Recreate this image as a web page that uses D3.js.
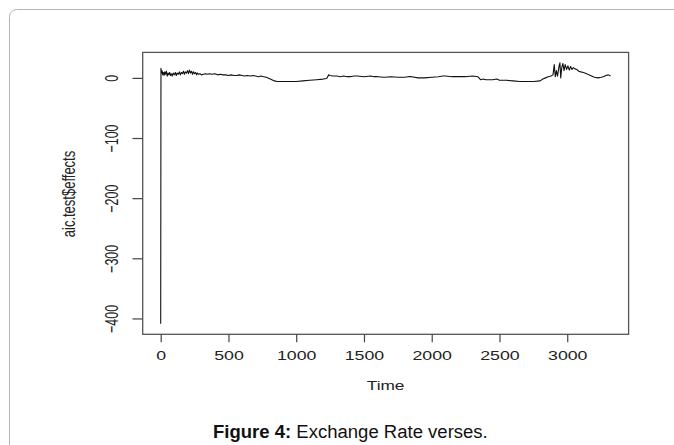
<!DOCTYPE html>
<html>
<head>
<meta charset="utf-8">
<script src="https://cdn.jsdelivr.net/npm/d3@7"></script>
<style>
  html, body { margin: 0; padding: 0; background: #fff; }
  svg { display: block; }
  text { font-family: "Liberation Sans", Arial, sans-serif; }
</style>
</head>
<body>
<svg id="chart" width="674" height="445"></svg>
<script>
// ---- data ----
const times = [
  0, 2, 5, 10, 15, 20, 25, 30, 36, 42, 48, 54, 60, 66, 72, 78, 85, 92, 100, 108,
  115, 122, 130, 138, 145, 152, 160, 168, 175, 182, 190, 198, 205, 212, 220, 228, 235, 242, 250, 258,
  265, 272, 280, 290, 300, 315, 330, 345, 360, 380, 400, 420, 440, 460, 480, 500, 520, 540, 560, 580,
  600, 620, 640, 660, 680, 700, 720, 740, 760, 780, 800, 820, 840, 860, 880, 900, 950, 1000, 1050, 1100,
  1150, 1200, 1225, 1240, 1250, 1270, 1300, 1325, 1350, 1375, 1400, 1425, 1450, 1500, 1550, 1575, 1600, 1650, 1700, 1750,
  1800, 1830, 1850, 1900, 1950, 2000, 2050, 2080, 2100, 2150, 2200, 2250, 2300, 2340, 2360, 2380, 2400, 2450, 2480, 2500,
  2550, 2600, 2650, 2700, 2750, 2800, 2820, 2840, 2860, 2880, 2895, 2904, 2912, 2920, 2928, 2940, 2946, 2952, 2960, 2968,
  2976, 2985, 2995, 3005, 3015, 3025, 3035, 3045, 3057, 3070, 3085, 3100, 3120, 3143, 3160, 3180, 3200, 3229, 3250, 3266,
  3285, 3303, 3320
];
const effects = [
  -409, 16, 8, 12, 5, 9, 4, 10, 6, 11, 3, 8, 5, 9, 4, 7, 3, 8, 5, 9,
  4, 8, 6, 10, 5, 9, 7, 11, 6, 10, 8, 12, 7, 13, 8, 11, 6, 10, 7, 9,
  5, 8, 6, 7, 5, 6, 7, 6, 7, 6, 7, 5, 6, 5, 5, 4, 5, 4, 4, 5,
  4, 3, 4, 3, 4, 3, 2, 3, 2, 1, -1, -3, -5, -6, -6, -6, -6, -6, -5, -4,
  -3, -2, -1, 5, 4, 3, 3, 2, 3, 2, 2, 3, 3, 2, 3, 2, 2, 1, 2, 1,
  1, 2, 2, 0, 0, 1, 2, 3, 3, 2, 2, 2, 3, 2, -3, -2, -3, -3, -2, -4,
  -4, -5, -6, -6, -6, -5, -2, 0, 2, 3, 5, 22, 2, 12, 3, 20, 25, 0, 18, 24,
  12, 22, 14, 20, 13, 19, 14, 17, 15, 14, 11, 10, 9, 7, 5, 3, 1, 0, 1, 2,
  4, 5, 3
];
const xTicks = [0, 500, 1000, 1500, 2000, 2500, 3000];
const yTicks = [0, -100, -200, -300, -400];
const xLabel = "Time";
const yLabel = "aic.test$effects";
const captionBold = "Figure 4:";
const captionText = " Exchange Rate verses.";

// ---- layout ----
const svg = d3.select("#chart");
const box = { left: 142.7, right: 628.6, top: 52.4, bottom: 334.3 };

// frame around the figure
svg.append("rect")
  .attr("x", 9.5).attr("y", 9.5)
  .attr("width", 720).attr("height", 520)
  .attr("rx", 7).attr("ry", 7)
  .attr("fill", "none").attr("stroke", "#b5b5b5").attr("stroke-width", 1);

// R-style 4% padding on the data ranges
const xExt = d3.extent(times), yExt = d3.extent(effects);
const xPad = (xExt[1] - xExt[0]) * 0.04, yPad = (yExt[1] - yExt[0]) * 0.04;
const x = d3.scaleLinear().domain([xExt[0] - xPad, xExt[1] + xPad]).range([box.left, box.right]);
const y = d3.scaleLinear().domain([yExt[0] - yPad, yExt[1] + yPad]).range([box.bottom, box.top]);

// series line
const line = d3.line().x((d, i) => x(times[i])).y(d => y(d));
svg.append("path")
  .datum(effects)
  .attr("d", line)
  .attr("fill", "none")
  .attr("stroke", "#111")
  .attr("stroke-width", 1.1)
  .attr("stroke-linejoin", "round");

// box
svg.append("rect")
  .attr("x", box.left).attr("y", box.top)
  .attr("width", box.right - box.left).attr("height", box.bottom - box.top)
  .attr("fill", "none").attr("stroke", "#555").attr("stroke-width", 1.3);

// x axis
const gx = svg.append("g")
  .attr("transform", `translate(0,${box.bottom})`)
  .call(d3.axisBottom(x).tickValues(xTicks).tickSize(8).tickSizeOuter(0).tickFormat(d3.format("d")));
gx.select(".domain").remove();
gx.selectAll(".tick line").attr("stroke", "#444").attr("stroke-width", 1.2);
gx.selectAll(".tick text")
  .attr("y", 21.7).attr("dy", "0.36em")
  .attr("font-size", 12.5)
  .attr("fill", "#222")
  .attr("transform", "scale(1.42,1)");

// y axis
const gy = svg.append("g")
  .attr("transform", `translate(${box.left},0)`)
  .call(d3.axisLeft(y).tickValues(yTicks).tickSize(10.2).tickSizeOuter(0).tickFormat(d3.format("d")));
gy.select(".domain").remove();
gy.selectAll(".tick line").attr("stroke", "#444").attr("stroke-width", 1.2);
gy.selectAll(".tick text")
  .attr("x", null).attr("dy", null)
  .attr("text-anchor", "middle")
  .attr("font-size", 12.5)
  .attr("fill", "#222")
  .attr("transform", "translate(-25,0) rotate(-90) scale(1,1.5)");

// axis titles
svg.append("text")
  .attr("x", (box.left + box.right) / 2).attr("y", 385.7).attr("dy", "0.36em")
  .attr("text-anchor", "middle")
  .attr("font-size", 12.5).attr("fill", "#222")
  .attr("transform", `translate(${(box.left + box.right) / 2},0) scale(1.38,1) translate(${-(box.left + box.right) / 2},0)`)
  .text(xLabel);

svg.append("text")
  .attr("text-anchor", "middle")
  .attr("font-size", 13).attr("fill", "#222")
  .attr("transform", `translate(75,194) rotate(-90) scale(1,1.45)`)
  .text(yLabel);

// caption
const cap = svg.append("text")
  .attr("x", 0).attr("y", 0)
  .attr("font-size", 19).attr("fill", "#111");
cap.append("tspan").attr("font-weight", "bold").text(captionBold);
cap.append("tspan").text(captionText);
const capW = cap.node().getComputedTextLength();
const targetW = 275, capCx = 350.5;
const sx = targetW / capW;
cap.attr("transform", `translate(${capCx - targetW / 2},437.5) scale(${sx},1)`);
</script>
</body>
</html>
